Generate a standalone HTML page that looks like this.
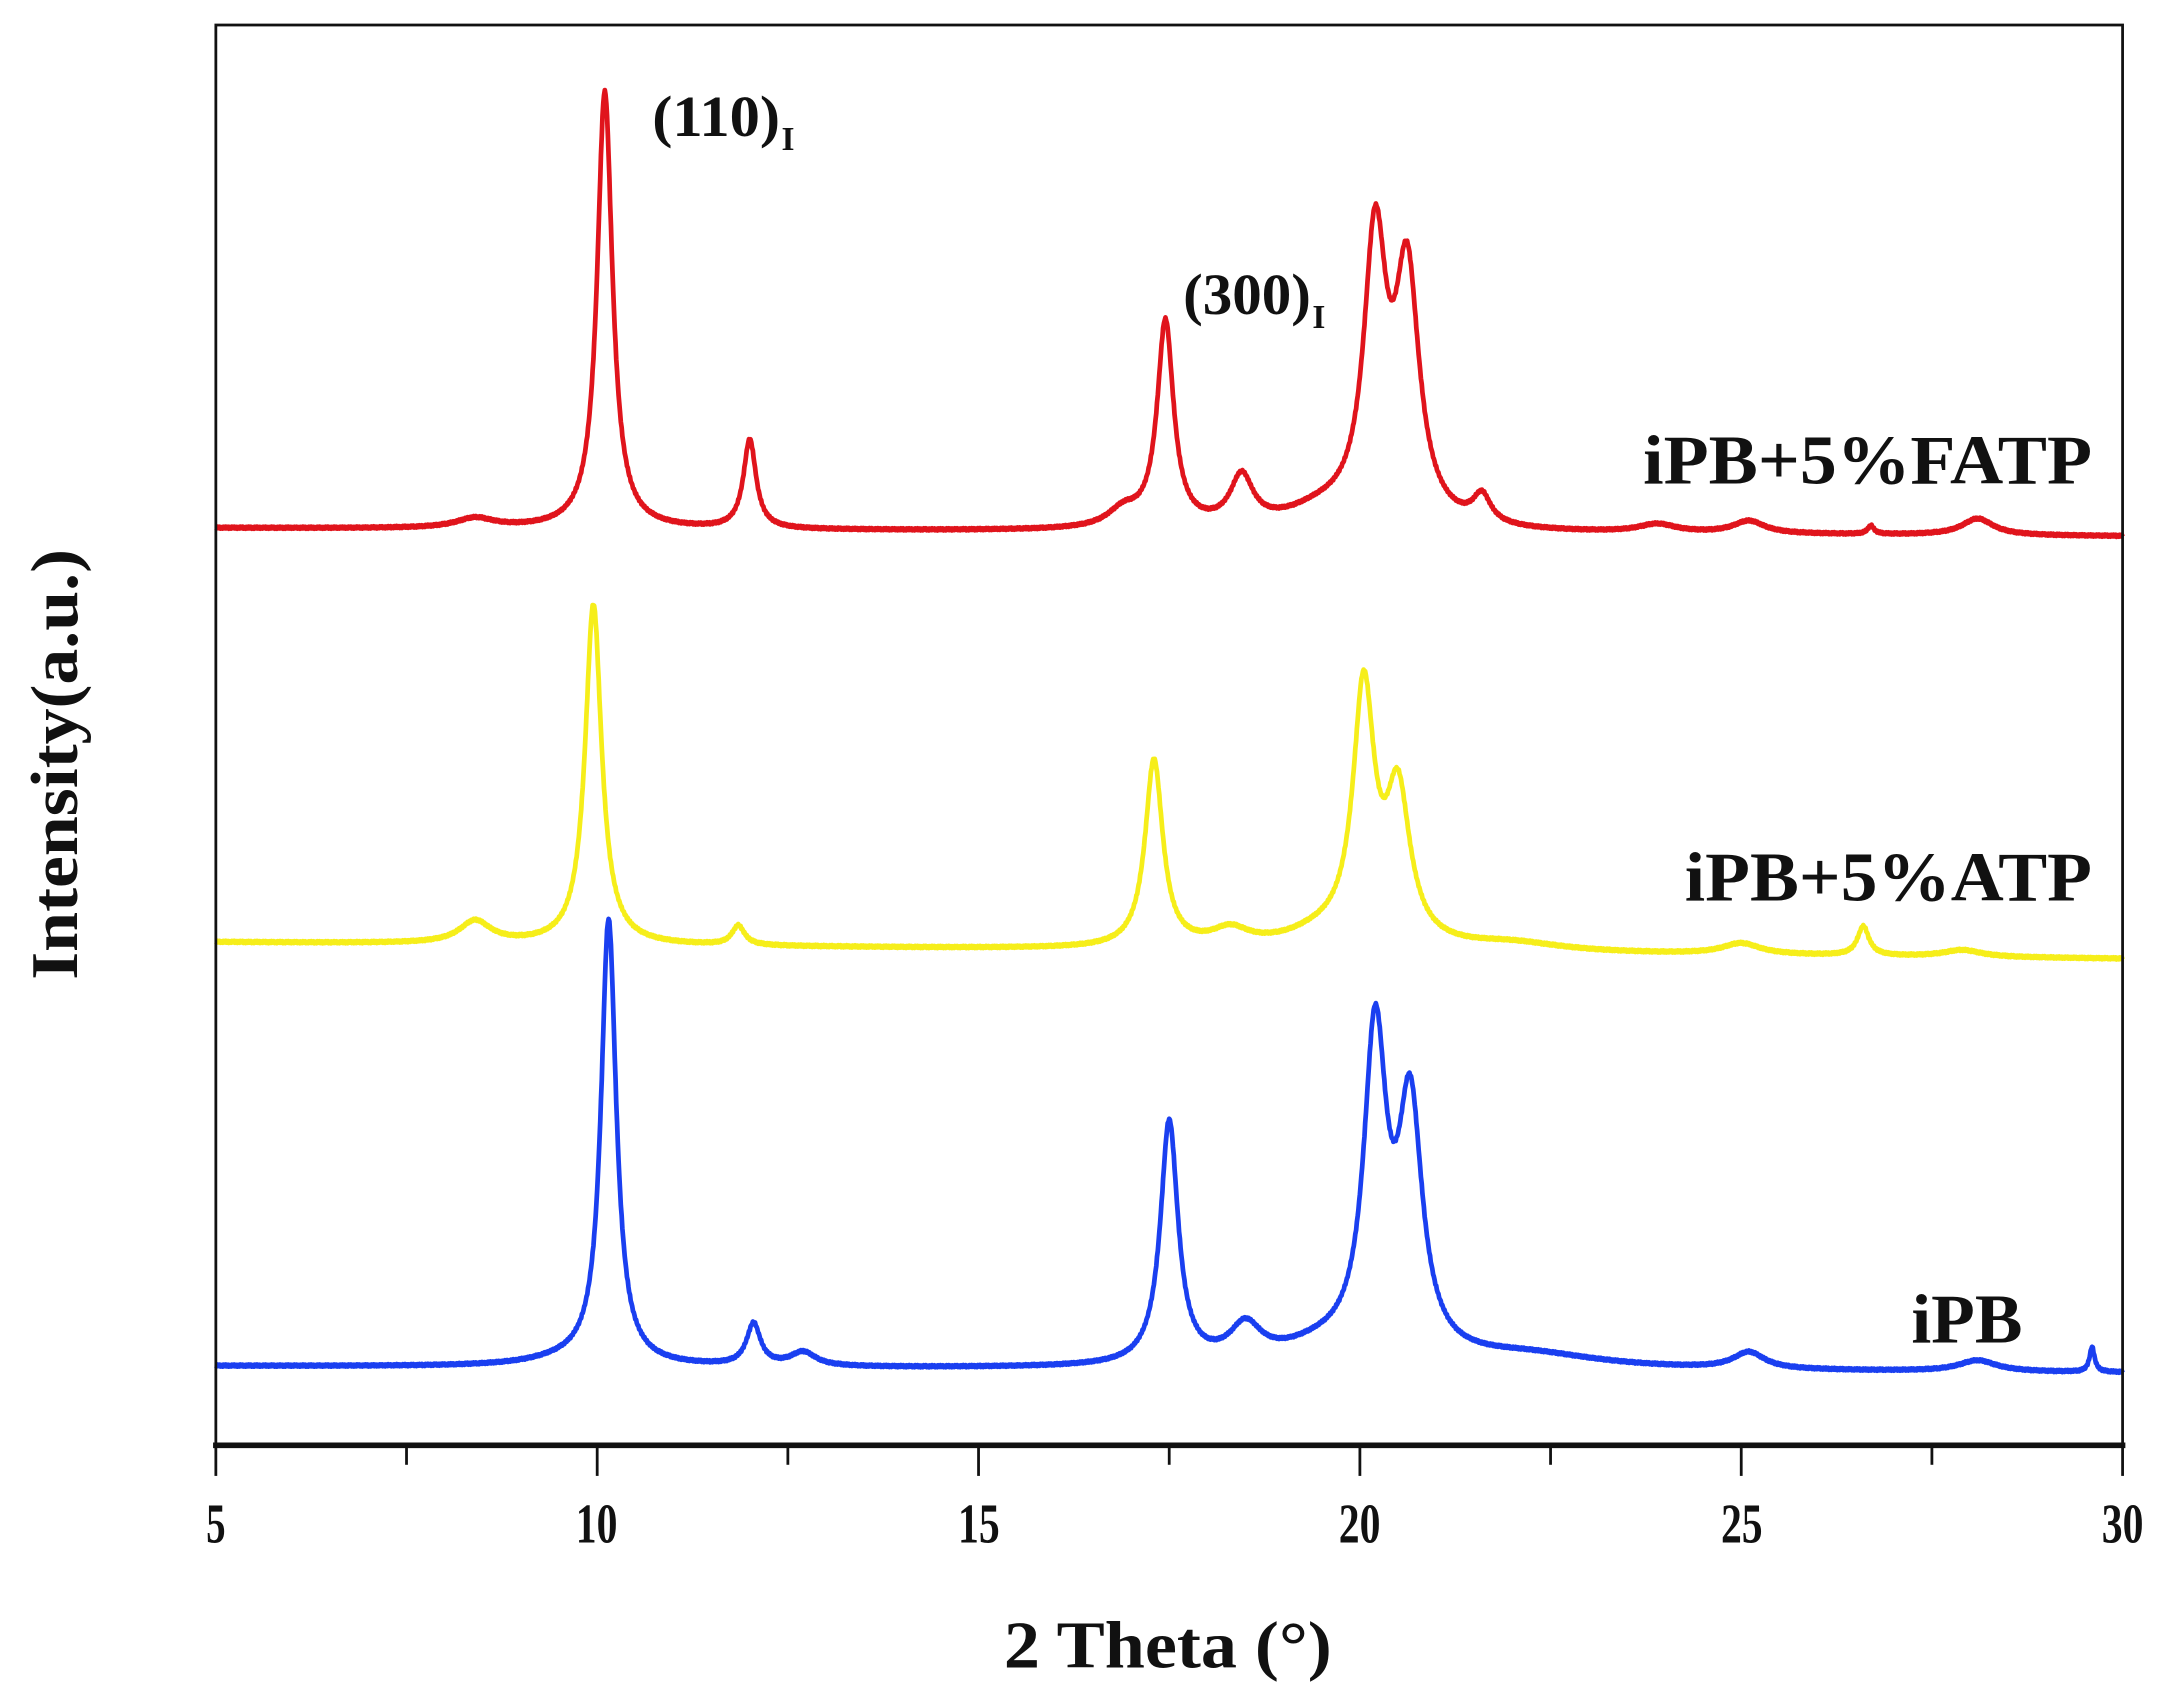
<!DOCTYPE html>
<html><head><meta charset="utf-8"><style>
html,body{margin:0;padding:0;background:#fff;}
svg{display:block;}
text{font-family:"Liberation Serif",serif;font-weight:bold;fill:#111;}
</style></head><body>
<svg id="s" width="2180" height="1708" viewBox="0 0 1568 1229" xmlns="http://www.w3.org/2000/svg">
<rect x="0" y="0" width="1568" height="1229" fill="#fff"/>
<g id="curves"></g>
<rect x="155" y="18" width="1372" height="1022" fill="none" stroke="#111" stroke-width="2"/>
<line x1="153" y1="1040" x2="1529" y2="1040" stroke="#111" stroke-width="4"/>
<g id="ticks" stroke="#111" stroke-width="2"></g>
<g font-size="40" text-anchor="middle">
<text x="155" y="1110" textLength="14" lengthAdjust="spacingAndGlyphs">5</text>
<text x="429" y="1110" textLength="30" lengthAdjust="spacingAndGlyphs">10</text>
<text x="704" y="1110" textLength="30" lengthAdjust="spacingAndGlyphs">15</text>
<text x="978" y="1110" textLength="30" lengthAdjust="spacingAndGlyphs">20</text>
<text x="1253" y="1110" textLength="30" lengthAdjust="spacingAndGlyphs">25</text>
<text x="1527" y="1110" textLength="30" lengthAdjust="spacingAndGlyphs">30</text>
</g>
<text x="722" y="1200" font-size="48" textLength="236" lengthAdjust="spacingAndGlyphs">2 Theta (°)</text>
<text transform="translate(55,395) rotate(-90)" font-size="48" text-anchor="end" textLength="310" lengthAdjust="spacingAndGlyphs">Intensity(a.u.)</text>
<text x="1182" y="348" font-size="50" textLength="323" lengthAdjust="spacingAndGlyphs">iPB+5%FATP</text>
<text x="1212" y="648" font-size="50" textLength="293" lengthAdjust="spacingAndGlyphs">iPB+5%ATP</text>
<text x="1375" y="966" font-size="50" textLength="80" lengthAdjust="spacingAndGlyphs">iPB</text>
<text x="469" y="98" font-size="42" textLength="92" lengthAdjust="spacingAndGlyphs">(110)</text><text x="562" y="108" font-size="24">I</text>
<text x="851" y="226" font-size="42" textLength="92" lengthAdjust="spacingAndGlyphs">(300)</text><text x="944" y="236" font-size="24">I</text>
</svg>
<script>
var X=function(t){return 155+(t-5)*54.88;};
var tk=document.getElementById('ticks'),h='';
for(var t=5;t<=30;t+=2.5){var x=X(t),maj=(t%5==0);h+='<line x1="'+x+'" y1="1040" x2="'+x+'" y2="'+(maj?1062:1054)+'"/>';}
tk.innerHTML=h;
function L(t,c,w){var d=(t-c)/w;return 1/(1+d*d);}
function curve(b0,b1,peaks,color){
 var d='';
 for(var i=0;i<=2500;i++){
  var t=5+25*i/2500, y=b0+(b1-b0)*(t-5)/25;
  for(var j=0;j<peaks.length;j++){var p=peaks[j];y-=p[1]*L(t,p[0],p[2]);}
  y+=Math.sin(i*2.3)*0.8;
  d+=(i?'L':'M')+X(t).toFixed(1)+' '+y.toFixed(1);
 }
 return '<path d="'+d+'" fill="none" stroke="'+color+'" stroke-width="3.4" stroke-linejoin="round"/>';
}
var red=curve(380,386,[[10.1,315,0.12],[12.0,64,0.1],[17.45,148,0.13],[16.9,12,0.25],[18.45,35,0.18],[20.2,200,0.18],[20.62,175,0.19],[21.6,20,0.14],[8.4,7,0.3],[23.9,6,0.3],[25.1,9,0.25],[26.7,6,0.05],[28.1,12,0.25],[19.5,12,0.6]],'#e0141c');
var yel=curve(678,690,[[9.95,245,0.13],[8.4,16,0.25],[11.85,14,0.1],[17.3,135,0.14],[18.3,12,0.3],[20.05,180,0.17],[20.5,105,0.19],[19.5,10,0.6],[26.6,21,0.09],[25.0,8,0.3],[27.9,5,0.3],[22,6,0.8]],'#f6ee1a');
var blu=curve(983,988,[[10.15,320,0.12],[12.05,30,0.11],[12.7,10,0.2],[17.5,175,0.14],[18.5,25,0.25],[20.2,228,0.18],[20.66,175,0.19],[19.5,12,0.7],[22.2,10,1.2],[25.1,12,0.25],[28.1,8,0.3],[29.6,18,0.04],[9.6,4,0.6]],'#1a3ff0');
document.getElementById('curves').innerHTML=red+yel+blu;
</script>
</body></html>
